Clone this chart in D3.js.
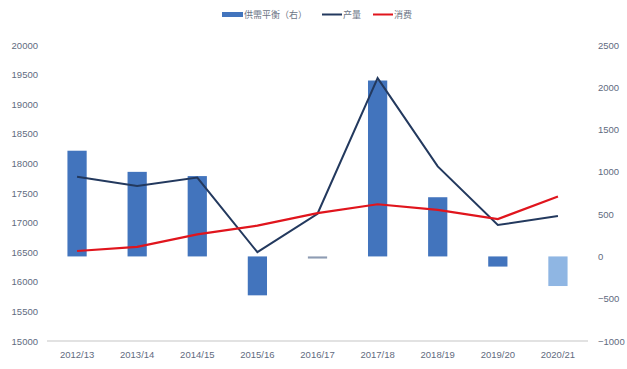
<!DOCTYPE html>
<html>
<head>
<meta charset="utf-8">
<script src="https://cdn.jsdelivr.net/npm/d3@7/dist/d3.min.js"></script>
<style>
  html, body { margin: 0; padding: 0; background: #fff; }
  svg { display: block; font-family: "Noto Sans CJK SC", "Liberation Sans", sans-serif; }
</style>
</head>
<body>
<svg id="chart" width="627" height="369"></svg>
<script>
// Marketing years
const seasons = ["2012/13", "2013/14", "2014/15", "2015/16", "2016/17", "2017/18", "2018/19", "2019/20", "2020/21"];
// Supply/demand balance (right axis)
const balance = [1250, 1000, 950, -460, -25, 2080, 700, -120, -350];
// Production (left axis)
const production = [17775, 17620, 17760, 16500, 17150, 19440, 17950, 16960, 17110];
// Consumption (left axis)
const consumption = [16520, 16590, 16800, 16950, 17160, 17310, 17215, 17060, 17440];
// Axis ticks
const leftTicks = [15000, 15500, 16000, 16500, 17000, 17500, 18000, 18500, 19000, 19500, 20000];
const rightTicks = [-1000, -500, 0, 500, 1000, 1500, 2000, 2500];
// Legend labels
const legendLabels = ["供需平衡（右）", "产量", "消费"];

const svg = d3.select("#chart");
const plot = { left: 47, right: 588, top: 45, bottom: 341 };

const x = d3.scaleBand().domain(seasons).range([plot.left, plot.right]).paddingInner(0.68).paddingOuter(0.34);
const yL = d3.scaleLinear().domain([15000, 20000]).range([plot.bottom, plot.top]);
const yR = d3.scaleLinear().domain([-1000, 2500]).range([plot.bottom, plot.top]);

const barColor = (d, i) => i === 8 ? "#8fb6e3" : (i === 4 ? "#8e9cb3" : "#4274bd");

// Balance bars
svg.append("g").selectAll("rect").data(balance).join("rect")
  .attr("x", (d, i) => x(seasons[i]))
  .attr("width", x.bandwidth())
  .attr("y", d => Math.min(yR(d), yR(0)))
  .attr("height", d => Math.max(1.5, Math.abs(yR(d) - yR(0))))
  .attr("fill", barColor);

// Category axis line
svg.append("line")
  .attr("x1", plot.left).attr("x2", plot.right)
  .attr("y1", plot.bottom).attr("y2", plot.bottom)
  .attr("stroke", "#d9d9d9").attr("stroke-width", 1.5);

const cx = s => x(s) + x.bandwidth() / 2;
const line = d3.line().x((d, i) => cx(seasons[i])).y(d => yL(d));

svg.append("path").datum(production)
  .attr("d", line).attr("fill", "none")
  .attr("stroke", "#23395e").attr("stroke-width", 2);

svg.append("path").datum(consumption)
  .attr("d", line).attr("fill", "none")
  .attr("stroke", "#e0151d").attr("stroke-width", 2.2);

// Axes
const tickColor = "#5f6b80";
const axisL = d3.axisLeft(yL).tickValues(leftTicks).tickSize(0).tickPadding(0).tickFormat(d3.format("d"));
const gL = svg.append("g").attr("transform", "translate(38,0)").call(axisL);
gL.select(".domain").remove();
gL.selectAll("text").attr("fill", tickColor).style("font-size", "9.5px").style("font-family", "Liberation Sans, sans-serif");

const axisR = d3.axisRight(yR).tickValues(rightTicks).tickSize(0).tickPadding(0).tickFormat(d3.format("d"));
const gR = svg.append("g").attr("transform", "translate(598,0)").call(axisR);
gR.select(".domain").remove();
gR.selectAll("text").attr("fill", tickColor).style("font-size", "9.5px").style("font-family", "Liberation Sans, sans-serif");

const axisB = d3.axisBottom(x).tickSize(0).tickPadding(10);
const gB = svg.append("g").attr("transform", `translate(0,${plot.bottom})`).call(axisB);
gB.select(".domain").remove();
gB.selectAll("text").attr("fill", tickColor).style("font-size", "9.5px").style("font-family", "Liberation Sans, sans-serif");

// Legend
const lg = svg.append("g").style("font-size", "9px").attr("fill", "#6b7585");
lg.append("rect").attr("x", 222).attr("y", 12).attr("width", 21).attr("height", 5).attr("fill", "#4274bd");
lg.append("text").attr("x", 244).attr("y", 18).text(legendLabels[0]);
lg.append("line").attr("x1", 322).attr("x2", 342).attr("y1", 14.5).attr("y2", 14.5).attr("stroke", "#23395e").attr("stroke-width", 2);
lg.append("text").attr("x", 343).attr("y", 18).text(legendLabels[1]);
lg.append("line").attr("x1", 373).attr("x2", 393).attr("y1", 14.5).attr("y2", 14.5).attr("stroke", "#e0151d").attr("stroke-width", 2);
lg.append("text").attr("x", 394).attr("y", 18).text(legendLabels[2]);
</script>
</body>
</html>
